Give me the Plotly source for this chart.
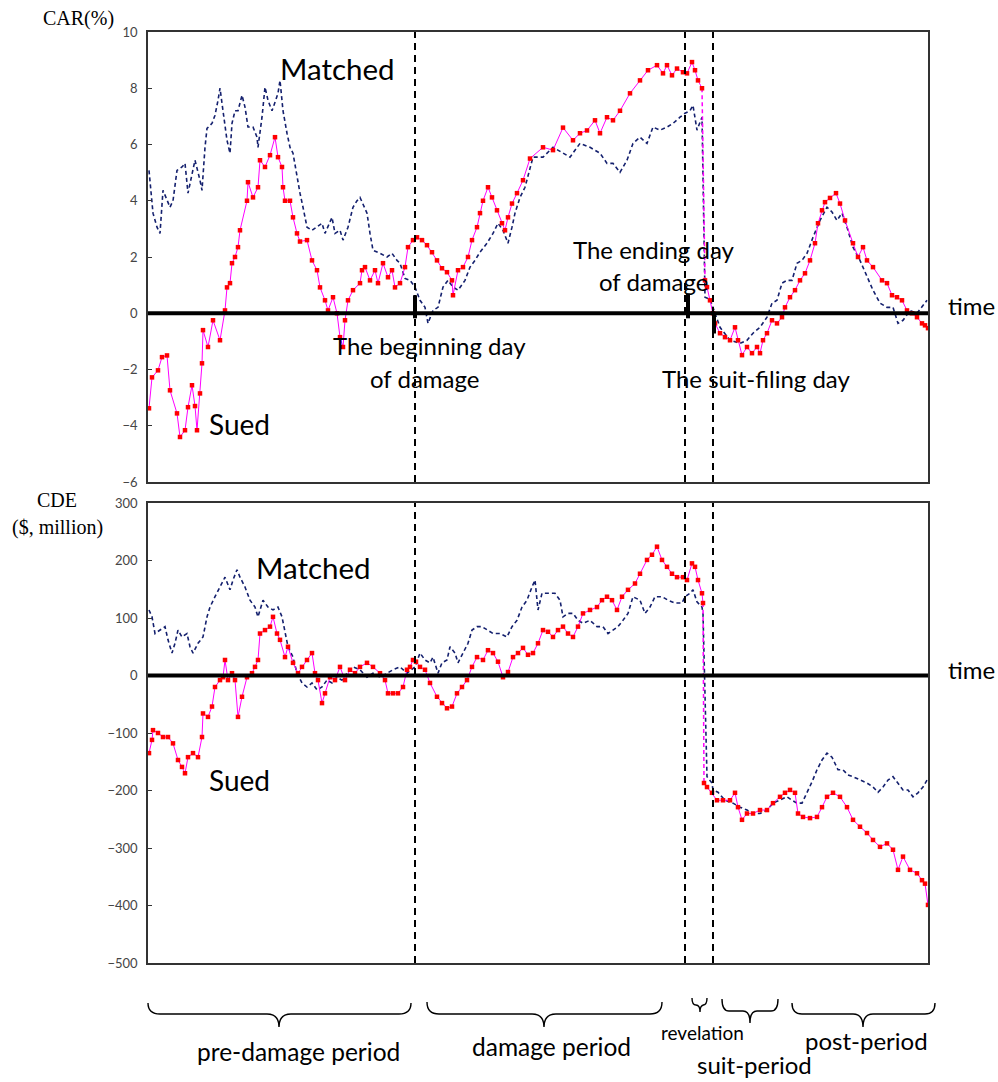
import plotly.graph_objects as go

# ---------------- data (time index, values) ----------------
# event days on the time axis
begin_day = 266
end_day = 536
reveal_day = 555
suit_day = 564

sued_car_t = [0, 3, 9, 13, 18, 21, 28, 31, 36, 39, 43, 46, 48, 51, 53, 54, 59, 64, 71, 76, 78, 81, 83, 86, 89, 91,
              98, 99, 104, 109, 111, 116, 121, 126, 129, 133, 134, 136, 141, 144, 148, 151, 158, 163, 168, 171, 176,
              179, 184, 188, 191, 194, 196, 199, 204, 211, 213, 216, 221, 226, 229, 234, 239, 243, 246, 251, 256,
              259, 264, 268, 273, 278, 283, 288, 293, 298, 303, 304, 309, 314, 319, 323, 328, 331, 334, 339, 343,
              348, 353, 356, 359, 363, 368, 374, 381, 394, 404, 414, 424, 431, 438, 446, 451, 458, 464, 471, 481,
              491, 499, 508, 514, 518, 523, 528, 534, 538, 543, 546, 549, 553,
              556, 558, 561, 564, 566, 571, 576, 581, 586, 589, 593, 598, 603, 608, 611, 614, 618, 623, 628, 633,
              636, 641, 646, 651, 656, 661, 666, 669, 673, 676, 681, 687, 691, 696, 704, 709, 714, 718, 724, 733,
              738, 743, 748, 753, 758, 763, 768, 773, 776, 779]
sued_car = [-3.38, -2.28, -2.03, -1.56, -1.5, -2.74, -3.56, -4.4, -4.16, -3.34, -2.56, -3.3, -4.16, -2.85, -1.78,
            -0.6, -1.2, -0.25, -0.96, 0.1, 0.92, 1.07, 1.78, 2.0, 2.35, 2.95,
            4.0, 4.66, 4.12, 4.48, 5.44, 5.2, 5.62, 6.26, 5.55, 5.2, 4.48, 4.0, 4.0, 3.41, 2.84, 2.55, 2.6, 1.88,
            1.53, 0.92, 0.46, 0.1, 0.57, 0.0, -0.85, -1.2, -0.25, 0.46, 0.82, 1.07, 1.53, 1.64, 1.17, 1.53, 1.07,
            1.78, 1.28, 1.53, 0.92, 1.07, 1.64, 2.35, 2.6, 2.7, 2.6, 2.42, 2.17, 1.88, 1.6, 1.46, 1.17, 0.64, 1.53,
            1.64, 2.0, 2.6, 3.06, 3.56, 4.0, 4.48, 4.12, 3.66, 3.2, 2.95, 3.41, 3.9, 4.27, 4.73, 5.5, 5.9, 5.8,
            6.6, 6.15, 6.4, 6.5, 6.86, 6.4, 6.97, 6.86, 7.2, 7.82, 8.28, 8.64, 8.82, 8.53, 8.82, 8.46, 8.7, 8.57,
            8.53, 8.93, 8.64, 8.28, 8.0,
            1.17, 0.93, 0.46, 0.0, -0.36, -0.71, -0.85, -0.96, -0.5, -0.96, -1.49, -1.2, -1.42, -1.2, -1.42,
            -0.96, -0.71, -0.25, -0.36, -0.14, 0.21, 0.57, 0.82, 1.17, 1.42, 1.88, 2.49, 3.2, 3.66, 3.95, 4.1,
            4.27, 3.9, 3.3, 2.49, 2.0, 2.35, 1.88, 1.64, 1.17, 1.07, 0.64, 0.57, 0.46, 0.1, 0.0, -0.14, -0.36,
            -0.43, -0.53]

matched_car_t = [0, 3, 4, 8, 11, 14, 18, 21, 24, 28, 33, 36, 39, 43, 46, 51, 53, 56, 58, 63, 66, 69, 71, 74, 78,
                 81, 83, 86, 89, 93, 96, 99, 104, 108, 109, 113, 116, 119, 123, 126, 129, 131, 134, 138, 141, 144,
                 148, 151, 154, 158, 163, 168, 173, 176, 179, 183, 186, 191, 194, 199, 204, 208, 211, 214, 218,
                 221, 224, 231, 238, 243, 248, 251, 256, 261, 266, 271, 276, 279, 284, 289, 294, 299, 304, 309,
                 316, 321, 326, 331, 338, 344, 349, 354, 359, 363, 366, 371, 376, 384, 394, 404, 414, 421, 431,
                 441, 451, 458, 464, 471, 478, 484, 491, 498, 504, 511, 518, 524, 531, 536, 541, 544, 548, 553,
                 556, 561, 566, 571, 581, 591, 598, 604, 611, 618, 623, 628, 633, 638, 643, 648, 653, 658, 664,
                 671, 678, 683, 688, 693, 698, 704, 711, 718, 724, 731, 738, 744, 749, 754, 761, 768, 773, 778]
matched_car = [5.08, 4.0, 3.56, 3.06, 2.84, 4.37, 4.0, 3.77, 4.0, 5.08, 5.2, 5.33, 4.27, 4.98, 5.44, 4.73, 4.37,
               5.9, 6.57, 6.75, 7.04, 7.57, 8.0, 7.2, 6.15, 5.69, 6.75, 7.2, 7.2, 7.75, 7.33, 6.62, 6.62, 6.26,
               5.9, 6.97, 8.04, 7.57, 7.2, 7.5, 7.82, 8.28, 7.2, 6.4, 5.9, 5.69, 4.84, 4.27, 3.77, 3.06, 2.95, 3.06,
               3.2, 2.84, 3.06, 3.41, 2.84, 2.95, 2.6, 3.06, 3.77, 4.0, 4.12, 3.9, 3.56, 2.84, 2.24, 2.13, 2.0,
               2.13, 1.88, 1.78, 1.24, 1.17, 0.93, 0.46, 0.21, -0.36, 0.1, 0.21, 0.93, 1.17, 0.93, 0.82, 1.17,
               1.64, 1.88, 2.17, 2.49, 2.84, 3.2, 2.95, 2.49, 3.06, 3.56, 4.12, 4.48, 5.55, 5.55, 5.9, 5.69, 5.55,
               6.04, 5.9, 5.69, 5.33, 5.33, 5.01, 5.44, 6.04, 6.26, 6.04, 6.62, 6.51, 6.62, 6.75, 6.97, 7.11, 7.2,
               7.39, 6.51, 6.97,
               0.57, 0.5, 0.0, -0.5, -0.96, -1.07, -0.96, -0.71, -0.5, -0.14, 0.36, 0.46, 1.07, 1.17, 1.17, 1.78,
               1.88, 2.13, 2.7, 3.3, 3.77, 3.6, 3.3, 3.56, 3.06, 2.35, 1.88, 1.28, 0.82, 0.36, 0.21, 0.21, -0.36,
               -0.25, 0.1, 0.0, 0.21, 0.46]

sued_cde_t = [0, 3, 4, 9, 14, 19, 24, 29, 33, 36, 39, 44, 49, 53, 54, 59, 63, 66, 71, 74, 76, 79, 83, 86, 89, 93,
              98, 103, 106, 109, 111, 116, 121, 124, 128, 131, 136, 139, 144, 149, 153, 158, 163, 166, 169, 173,
              176, 181, 186, 191, 196, 201, 206, 211, 218, 224, 231, 236, 239, 244, 249, 254, 258, 261, 264, 267,
              271, 276, 281, 288, 293, 298, 303, 308, 313, 318, 323, 328, 334, 339, 344, 349, 354, 359, 364, 369,
              374, 379, 384, 389, 394, 399, 404, 409, 414, 419, 424, 429, 434, 441, 448, 453, 458, 463, 468, 473,
              479, 486, 491, 498, 503, 508, 513, 518, 523, 528, 534, 538, 543, 546, 549, 553, 554,
              555, 558, 563, 568, 574, 581, 586, 589, 593, 598, 604, 611, 618, 624, 631, 636, 641, 646, 649, 654,
              661, 668, 673, 678, 684, 691, 698, 704, 711, 718, 724, 731, 738, 744, 749, 754, 761, 768, 773, 776,
              779]
sued_cde = [-135, -112, -95, -100, -107, -107, -118, -147, -159, -170, -142, -135, -142, -107, -66, -72, -54, -20,
            -8, -3, 27, -8, 4, -8, -72, -37, -3, 4, 15, 27, 73, 79, 85, 102, 73, 62, 32, 50, 22, 4, 15, 27, 39,
            4, -8, -48, -31, -3, -8, 15, -8, 10, 4, 15, 22, 15, 4, -8, -31, -31, -31, -20, 10, 15, 27, 24, 15,
            10, -13, -37, -48, -57, -54, -31, -20, -8, 15, 32, 27, 44, 39, 24, -3, 6, 32, 39, 48, 36, 39, 56,
            79, 76, 67, 79, 85, 73, 67, 85, 108, 114, 119, 131, 137, 131, 114, 137, 149, 160, 177, 201, 210,
            224, 201, 189, 177, 171, 171, 166, 195, 189, 166, 143, 126,
            -187, -194, -204, -217, -217, -217, -204, -229, -251, -240, -240, -234, -234, -222, -211, -204, -199,
            -204, -240, -246, -248, -246, -229, -211, -204, -211, -229, -251, -263, -274, -286, -298, -292, -303,
            -338, -315, -338, -344, -356, -362, -399]

matched_cde_t = [0, 3, 6, 11, 16, 19, 23, 26, 29, 33, 38, 41, 44, 49, 54, 58, 61, 66, 71, 76, 81, 84, 88, 91, 96,
                 101, 106, 109, 114, 119, 124, 129, 133, 136, 139, 144, 148, 153, 158, 163, 168, 173, 178, 183,
                 188, 193, 198, 204, 211, 218, 224, 231, 238, 244, 251, 258, 266, 271, 276, 281, 284, 289, 293,
                 298, 301, 306, 309, 314, 319, 323, 328, 333, 338, 344, 351, 358, 363, 368, 373, 378, 383, 386,
                 389, 393, 399, 406, 411, 414, 419, 424, 429, 434, 441, 448, 454, 459, 464, 469, 474, 479, 484,
                 491, 496, 501, 506, 513, 519, 526, 533, 536, 541, 544, 548, 553, 554,
                 558, 563, 564, 569, 576, 584, 591, 598, 604, 611, 618, 624, 631, 638, 643, 648, 653, 658, 663,
                 668, 673, 678, 683, 686, 689, 694, 699, 704, 711, 718, 724, 729, 734, 739, 744, 749, 754, 759,
                 764, 769, 774, 778]
matched_cde = [114, 102, 73, 79, 85, 62, 39, 56, 79, 67, 73, 50, 39, 56, 67, 102, 119, 137, 154, 171, 149, 166,
               184, 171, 154, 131, 119, 102, 131, 119, 114, 119, 102, 73, 50, 32, 4, -13, -20, -13, -25, -20, -8,
               -13, -3, -8, 4, 15, 10, -3, 4, -3, 4, 10, 15, 4, 15, 39, 27, 22, 32, 4, 22, 27, 50, 39, 22, 39, 56,
               79, 85, 85, 79, 73, 73, 67, 85, 96, 119, 131, 154, 166, 114, 143, 143, 143, 131, 102, 108, 108, 96,
               91, 96, 85, 85, 73, 79, 85, 96, 108, 137, 131, 108, 119, 137, 137, 131, 126, 126, 137, 143, 149,
               128, 119, 108,
               -176, -187, -199, -203, -217, -222, -229, -234, -240, -240, -234, -222, -217, -211, -217, -222,
               -222, -204, -185, -164, -147, -135, -142, -153, -164, -164, -173, -176, -182, -187, -194, -203,
               -194, -182, -176, -187, -199, -199, -211, -204, -194, -182]

period_labels = ["pre-damage period", "damage period", "revelation", "suit-period", "post-period"]

# ---------------- layout helpers ----------------
W, H = 998, 1082
PL, PR, PT, PB = 148, 928, 32, 963  # plot area in pixels


def P(px, py):
    return (px - PL) / (PR - PL), (PB - py) / (PB - PT)


RED = "#ff0000"
MAG = "#ff00ff"
NAVY = "#14206e"
SANS = "Lato"
SERIF = "Liberation Serif"

fig = go.Figure()


def add_panel(t_s, v_s, t_m, v_m, xa, ya):
    pre_t = [t for t in t_s if t < reveal_day]
    pre_v = v_s[:len(pre_t)]
    post_t = t_s[len(pre_t):]
    post_v = v_s[len(pre_t):]
    # matched (navy dashed)
    fig.add_trace(go.Scatter(x=t_m, y=v_m, mode="lines", xaxis=xa, yaxis=ya,
                             line=dict(color=NAVY, width=1.6, dash="4px,3px"), showlegend=False,
                             hoverinfo="skip"))
    # sued jump across the revelation (magenta dashed)
    fig.add_trace(go.Scatter(x=[pre_t[-1], post_t[0]], y=[pre_v[-1], post_v[0]], mode="lines",
                             xaxis=xa, yaxis=ya, line=dict(color=MAG, width=1.5, dash="4px,3px"),
                             showlegend=False, hoverinfo="skip"))
    for tt, vv in ((pre_t, pre_v), (post_t, post_v)):
        fig.add_trace(go.Scatter(x=tt, y=vv, mode="lines+markers", xaxis=xa, yaxis=ya,
                                 line=dict(color=MAG, width=1),
                                 marker=dict(color=RED, size=4.5, symbol="square"),
                                 showlegend=False, hoverinfo="skip"))


add_panel(sued_car_t, sued_car, matched_car_t, matched_car, "x", "y")
add_panel(sued_cde_t, sued_cde, matched_cde_t, matched_cde, "x2", "y2")

top_dom = [P(0, 482)[1], 1.0]
bot_dom = [0.0, P(0, 503)[1]]

axis_common = dict(showline=True, linecolor="#333333", linewidth=1.5, mirror=True, showgrid=False,
                   zeroline=False)
xcommon = dict(axis_common, range=[-1, 779], showticklabels=False, ticks="")
ycommon = dict(axis_common, ticks="inside", ticklen=4, tickcolor="#333333",
               tickfont=dict(family=SANS, size=13, color="#454545"), ticklabelstandoff=6)

fig.update_layout(
    width=W, height=H,
    margin=dict(l=PL, r=W - PR, t=PT, b=H - PB),
    paper_bgcolor="white", plot_bgcolor="white",
    xaxis=dict(xcommon, domain=[0, 1], anchor="y"),
    xaxis2=dict(xcommon, domain=[0, 1], anchor="y2"),
    yaxis=dict(ycommon, domain=top_dom, range=[-6, 10], dtick=2, anchor="x"),
    yaxis2=dict(ycommon, domain=bot_dom, range=[-500, 300], dtick=100, anchor="x2"),
)

shapes = []
for xa, ya, lo, hi in (("x", "y", -6, 10), ("x2", "y2", -500, 300)):
    for d in (begin_day, end_day, suit_day):
        shapes.append(dict(type="line", xref=xa, yref=ya, x0=d, x1=d, y0=lo, y1=hi,
                           line=dict(color="black", width=2, dash="7px,5px")))
    shapes.append(dict(type="line", xref=xa, yref=ya, x0=-1, x1=779, y0=0, y1=0,
                       line=dict(color="black", width=4)))
# event marks on the CAR zero line
for d, a, b in ((begin_day, -0.18, 0.64), (end_day + 3, -0.18, 0.7), (suit_day + 1, 0.0, -0.72)):
    shapes.append(dict(type="line", xref="x", yref="y", x0=d, x1=d, y0=a, y1=b,
                       line=dict(color="black", width=4)))


def brace(x0, x1, xc, ytop, ymid, ytip, r):
    pts = [P(x0, ytop), P(x0, ymid), P(x0 + r, ymid), P(xc - r, ymid), P(xc, ymid), P(xc, ytip),
           P(xc, ymid), P(xc + r, ymid), P(x1 - r, ymid), P(x1, ymid), P(x1, ytop)]
    f = lambda p: f"{p[0]:.5f},{p[1]:.5f}"
    path = (f"M{f(pts[0])} Q{f(pts[1])} {f(pts[2])} L{f(pts[3])} Q{f(pts[4])} {f(pts[5])} "
            f"Q{f(pts[6])} {f(pts[7])} L{f(pts[8])} Q{f(pts[9])} {f(pts[10])}")
    return dict(type="path", xref="paper", yref="paper", path=path, line=dict(color="black", width=1.4))


shapes += [
    brace(148, 411, 279, 1003, 1014, 1027, 12),
    brace(427, 662, 544, 1002, 1014, 1027, 12),
    brace(692, 707, 700, 998, 1005, 1012, 4),
    brace(722, 778, 750, 999, 1011, 1023, 7),
    brace(792, 935, 863, 1003, 1014, 1027, 10),
]
fig.update_layout(shapes=shapes)

annots = [
    ("Matched", 337, 68, 29.5, SANS),
    ("Sued", 239, 424, 28, SANS),
    ("The beginning day", 429, 346, 24, SANS),
    ("of damage", 424, 378, 24, SANS),
    ("The ending day", 654, 249, 24, SANS),
    ("of damage", 653, 282, 24, SANS),
    ("The suit-filing day", 756, 378, 24, SANS),
    ("time", 971, 305, 24, SANS),
    ("Matched", 313, 567, 29.5, SANS),
    ("Sued", 239, 780, 28, SANS),
    ("time", 971, 669, 24, SANS),
    ("CAR(%)", 78, 19, 20, SERIF),
    ("CDE", 57, 500, 20, SERIF),
    ("($, million)", 57, 527, 20, SERIF),
    (period_labels[0], 298, 1051, 24.5, SANS),
    (period_labels[1], 551, 1046, 24.5, SANS),
    (period_labels[2], 702, 1032, 19, SANS),
    (period_labels[3], 754, 1064, 24, SANS),
    (period_labels[4], 866, 1040, 24, SANS),
]
fig.update_layout(annotations=[
    dict(text=t, x=P(px, py)[0], y=P(px, py)[1], xref="paper", yref="paper", showarrow=False,
         xanchor="center", yanchor="middle", font=dict(family=fam, size=s, color="black"))
    for t, px, py, s, fam in annots
])

fig.write_html("out.html", include_plotlyjs=True, config={"displayModeBar": False},
               post_script="document.body.style.margin='0';")
